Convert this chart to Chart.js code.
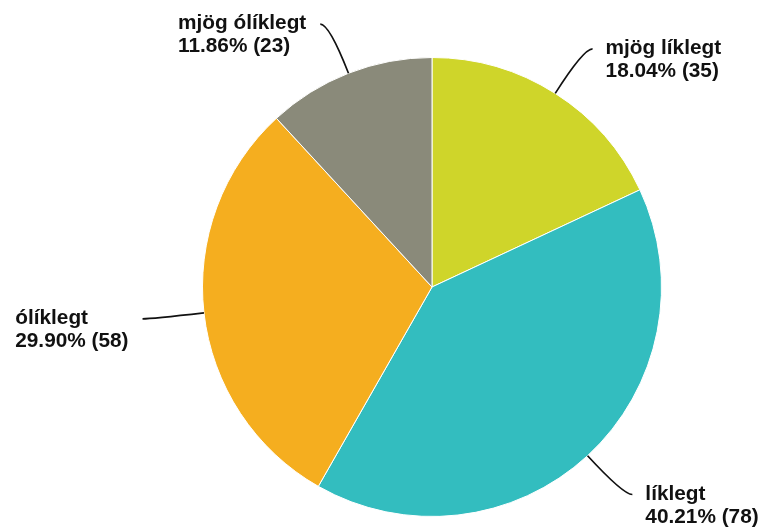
<!DOCTYPE html>
<html>
<head>
<meta charset="utf-8">
<script src="https://cdn.jsdelivr.net/npm/chart.js@4"></script>
<style>
html,body{margin:0;padding:0;background:#fff;}
#wrap{width:762px;height:529px;position:relative;}
</style>
</head>
<body>
<div id="wrap"><canvas id="c" width="762" height="529"></canvas></div>
<script>
const categories = ["mjög líklegt", "líklegt", "ólíklegt", "mjög ólíklegt"];
const counts = [35, 78, 58, 23];
const sliceColors = ["#cfd52a", "#33bdbf", "#f5ae1f", "#8a8a7a"];

const total = counts.reduce((a, b) => a + b, 0);
const FONT = 'bold 20.8px "Liberation Sans", Arial, sans-serif';

const labelPlugin = {
  id: 'leaderLabels',
  afterDatasetsDraw(chart) {
    const ctx = chart.ctx;
    const meta = chart.getDatasetMeta(0);
    ctx.save();
    ctx.font = FONT;
    meta.data.forEach((arc, i) => {
      const mid = (arc.startAngle + arc.endAngle) / 2;
      const r = arc.outerRadius;
      const cx = arc.x, cy = arc.y;
      const dx = Math.cos(mid), dy = Math.sin(mid);
      const p0 = {x: cx + dx * r, y: cy + dy * r};
      const p1 = {x: cx + dx * r * 1.23, y: cy + dy * r * 1.23};
      const right = dx >= 0;
      const tail = 9;
      const end = {x: p1.x + (right ? tail : -tail), y: p1.y};
      ctx.beginPath();
      ctx.strokeStyle = '#111';
      ctx.lineWidth = 1.7;
      ctx.moveTo(p0.x, p0.y);
      ctx.quadraticCurveTo(p1.x, p1.y, end.x, end.y);
      ctx.stroke();

      const line1 = categories[i];
      const line2 = (counts[i] / total * 100).toFixed(2) + '% (' + counts[i] + ')';
      const w = Math.max(ctx.measureText(line1).width, ctx.measureText(line2).width);
      const tx = right ? end.x + 13 : end.x - 14 - w;
      ctx.fillStyle = '#111';
      ctx.textAlign = 'left';
      ctx.textBaseline = 'alphabetic';
      ctx.fillText(line1, tx, end.y + 5);
      ctx.fillText(line2, tx, end.y + 28);
    });
    ctx.restore();
  }
};

new Chart(document.getElementById('c'), {
  type: 'pie',
  data: {
    labels: categories,
    datasets: [{
      data: counts,
      backgroundColor: sliceColors,
      borderColor: '#ffffff',
      borderWidth: 1
    }]
  },
  options: {
    responsive: false,
    animation: false,
    layout: {padding: {top: 57, bottom: 12, left: 202, right: 100}},
    plugins: {legend: {display: false}, tooltip: {enabled: false}}
  },
  plugins: [labelPlugin]
});
</script>
</body>
</html>
